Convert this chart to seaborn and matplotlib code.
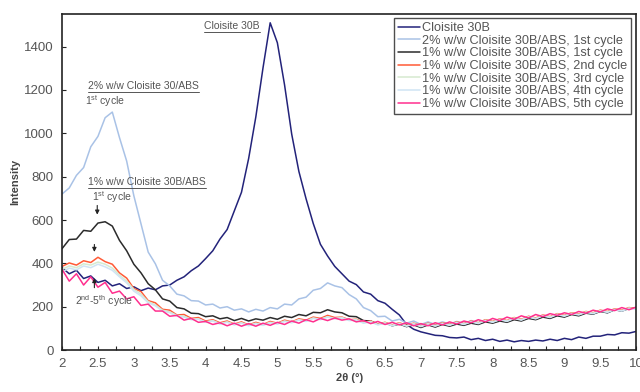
import numpy as np
import pandas as pd
import matplotlib
matplotlib.use("Agg")
import matplotlib.pyplot as plt
import seaborn as sns
from matplotlib.ticker import MultipleLocator

# 2-theta sampling (degrees)
two_theta = [2.0, 2.1, 2.2, 2.3, 2.4, 2.5, 2.6, 2.7, 2.8, 2.9,
             3.0, 3.1, 3.2, 3.3, 3.4, 3.5, 3.6, 3.7, 3.8, 3.9,
             4.0, 4.1, 4.2, 4.3, 4.4, 4.5, 4.6, 4.7, 4.8, 4.9,
             5.0, 5.1, 5.2, 5.3, 5.4, 5.5, 5.6, 5.7, 5.8, 5.9,
             6.0, 6.1, 6.2, 6.3, 6.4, 6.5, 6.6, 6.7, 6.8, 6.9,
             7.0, 7.1, 7.2, 7.3, 7.4, 7.5, 7.6, 7.7, 7.8, 7.9,
             8.0, 8.1, 8.2, 8.3, 8.4, 8.5, 8.6, 8.7, 8.8, 8.9,
             9.0, 9.1, 9.2, 9.3, 9.4, 9.5, 9.6, 9.7, 9.8, 9.9,
             10.0]

cloisite = [380, 352, 368, 330, 342, 312, 322, 296, 306, 284,
            292, 274, 286, 278, 296, 300, 322, 338, 366, 388,
            422, 458, 512, 556, 642, 728, 884, 1076, 1302, 1510,
            1418, 1224, 996, 824, 698, 584, 488, 434, 386, 352,
            318, 302, 268, 258, 228, 216, 188, 162, 118, 96,
            84, 76, 68, 66, 58, 56, 60, 48, 54, 44,
            50, 40, 46, 38, 44, 40, 46, 42, 50, 44,
            54, 48, 60, 54, 64, 64, 72, 70, 80, 78,
            86]

pct2_1st = [720, 748, 806, 842, 938, 986, 1072, 1098, 980, 872,
            712, 582, 452, 398, 322, 296, 258, 250, 228, 226,
            208, 212, 194, 200, 184, 190, 176, 188, 180, 196,
            190, 212, 208, 236, 244, 276, 284, 310, 296, 288,
            256, 236, 196, 182, 154, 156, 134, 142, 124, 134,
            118, 130, 118, 130, 120, 132, 122, 136, 126, 138,
            130, 142, 134, 146, 138, 150, 142, 156, 148, 160,
            154, 166, 160, 172, 166, 180, 172, 186, 180, 192,
            196]

pct1_1st = [468, 510, 512, 552, 548, 586, 592, 572, 506, 458,
            396, 356, 306, 278, 236, 226, 196, 190, 170, 168,
            154, 158, 144, 150, 136, 146, 134, 144, 138, 150,
            142, 156, 150, 164, 158, 174, 172, 186, 176, 172,
            156, 154, 136, 134, 120, 126, 112, 120, 108, 116,
            104, 116, 106, 118, 110, 120, 114, 124, 118, 130,
            124, 134, 128, 140, 134, 146, 140, 152, 146, 158,
            152, 164, 158, 170, 166, 178, 172, 186, 180, 192,
            196]

pct1_2nd = [386, 402, 392, 412, 404, 428, 408, 396, 356, 332,
            284, 270, 228, 218, 188, 184, 162, 164, 146, 150,
            134, 140, 126, 134, 120, 130, 116, 128, 118, 132,
            124, 138, 130, 144, 138, 152, 146, 160, 150, 152,
            140, 142, 128, 134, 120, 128, 116, 126, 114, 124,
            112, 124, 114, 126, 118, 130, 122, 134, 126, 140,
            132, 144, 136, 150, 142, 156, 148, 162, 154, 168,
            160, 172, 166, 178, 172, 184, 178, 190, 184, 196,
            192]

pct1_3rd = [372, 388, 380, 398, 392, 406, 396, 378, 346, 318,
            280, 258, 224, 208, 184, 176, 160, 156, 142, 144,
            130, 136, 122, 130, 118, 126, 114, 124, 116, 128,
            122, 134, 128, 140, 134, 148, 142, 154, 146, 150,
            138, 140, 126, 132, 118, 126, 114, 124, 112, 122,
            110, 122, 112, 124, 116, 128, 120, 132, 124, 138,
            130, 142, 134, 148, 140, 154, 146, 160, 152, 166,
            158, 170, 164, 176, 170, 182, 176, 188, 182, 194,
            190]

pct1_4th = [360, 378, 370, 388, 380, 396, 384, 368, 338, 310,
            272, 250, 218, 204, 180, 172, 156, 152, 140, 142,
            128, 134, 120, 128, 116, 124, 112, 122, 114, 126,
            120, 132, 126, 138, 132, 146, 140, 152, 144, 148,
            136, 138, 124, 130, 116, 124, 112, 122, 110, 120,
            108, 120, 110, 122, 114, 126, 118, 130, 122, 136,
            128, 140, 132, 146, 138, 152, 144, 158, 150, 164,
            156, 168, 162, 174, 168, 180, 174, 186, 180, 192,
            188]

pct1_5th = [372, 318, 352, 300, 338, 290, 312, 262, 272, 236,
            246, 206, 212, 180, 180, 156, 160, 138, 146, 128,
            132, 118, 126, 112, 124, 110, 122, 110, 124, 114,
            128, 118, 134, 124, 140, 130, 146, 136, 148, 138,
            144, 130, 136, 122, 132, 118, 128, 116, 126, 112,
            122, 112, 126, 116, 130, 120, 134, 126, 140, 130,
            146, 136, 152, 142, 158, 148, 164, 154, 168, 160,
            172, 164, 178, 170, 184, 176, 190, 182, 196, 186,
            198]

series_names = ["Cloisite 30B",
                "2% w/w Cloisite 30B/ABS, 1st cycle",
                "1% w/w Cloisite 30B/ABS, 1st cycle",
                "1% w/w Cloisite 30B/ABS, 2nd cycle",
                "1% w/w Cloisite 30B/ABS, 3rd cycle",
                "1% w/w Cloisite 30B/ABS, 4th cycle",
                "1% w/w Cloisite 30B/ABS, 5th cycle"]
series_values = [cloisite, pct2_1st, pct1_1st, pct1_2nd, pct1_3rd, pct1_4th, pct1_5th]
series_colors = ["#23237a", "#a9c2e6", "#2b2b2b", "#ff5a36", "#d6ead0", "#cfe4f4", "#ff2f8e"]

sns.set_style("ticks")
plt.rcParams["font.family"] = ["Liberation Sans", "DejaVu Sans"]
plt.rcParams["mathtext.fontset"] = "custom"
plt.rcParams["mathtext.rm"] = "Liberation Sans"
plt.rcParams["mathtext.it"] = "Liberation Sans:italic"

fig = plt.figure(figsize=(6.4, 3.92), dpi=100)
ax = fig.add_axes([0.097, 0.107, 0.897, 0.857])

for name, vals, col in zip(series_names, series_values, series_colors):
    df = pd.DataFrame({"two_theta": two_theta, "intensity": vals})
    sns.lineplot(data=df, x="two_theta", y="intensity", ax=ax, color=col,
                 linewidth=1.1, label=name)

ax.set_xlim(2, 10)
ax.set_ylim(0, 1550)
ax.xaxis.set_major_locator(MultipleLocator(0.5))
ax.xaxis.set_minor_locator(MultipleLocator(0.25))
ax.yaxis.set_major_locator(MultipleLocator(200))
ax.xaxis.set_major_formatter(plt.FuncFormatter(lambda v, p: f"{v:g}"))
ax.tick_params(axis="both", which="both", direction="in", length=3, width=0.8,
               colors="#222222", labelcolor="#555555", labelsize=9.5, pad=6)
for sp in ax.spines.values():
    sp.set_visible(True)
    sp.set_color("#222222")
    sp.set_linewidth(1.2)

ax.set_xlabel("2θ (°)", fontsize=8, fontweight="bold", color="#444444", labelpad=2)
ax.set_ylabel("Intensity", fontsize=8, fontweight="bold", color="#444444", labelpad=3)

leg = ax.legend(loc="upper right", bbox_to_anchor=(0.996, 0.995), fontsize=9.2,
                frameon=True, fancybox=False, handlelength=1.7, handletextpad=0.2,
                borderpad=0.3, labelspacing=0.05, borderaxespad=0.2)
leg.get_frame().set_edgecolor("#222222")
leg.get_frame().set_linewidth(1.0)
for t in leg.get_texts():
    t.set_color("#555555")

txt_kw = dict(fontsize=7.5, color="#555555")
underlined = [
    ax.text(4.37, 1495, "Cloisite 30B", ha="center", va="center", **txt_kw),
    ax.text(2.36, 1218, "2% w/w Cloisite 30/ABS", ha="left", va="center", **txt_kw),
    ax.text(2.36, 777, "1% w/w Cloisite 30B/ABS", ha="left", va="center", **txt_kw),
]
ax.text(2.32, 1150, "1$^{\\mathrm{st}}$ cycle", ha="left", va="center", **txt_kw)
ax.text(2.42, 708, "1$^{\\mathrm{st}}$ cycle", ha="left", va="center", **txt_kw)
ax.text(2.18, 225, "2$^{\\mathrm{nd}}$-5$^{\\mathrm{th}}$ cycle", ha="left", va="center", **txt_kw)

arrow_kw = dict(arrowstyle="-|>", color="#222222", lw=0.8, mutation_scale=6)
ax.annotate("", xy=(2.49, 612), xytext=(2.49, 680), arrowprops=arrow_kw)
ax.annotate("", xy=(2.45, 440), xytext=(2.45, 500), arrowprops=arrow_kw)
ax.annotate("", xy=(2.45, 345), xytext=(2.45, 275), arrowprops=arrow_kw)

# underline the annotation titles
fig.canvas.draw()
inv = ax.transData.inverted()
for t in underlined:
    bb = t.get_window_extent()
    (x0, y0), (x1, _) = inv.transform([(bb.x0, bb.y0 - 1), (bb.x1, bb.y0 - 1)])
    ax.plot([x0, x1], [y0, y0], color="#555555", lw=0.7)

fig.savefig("out.png", dpi=100)
